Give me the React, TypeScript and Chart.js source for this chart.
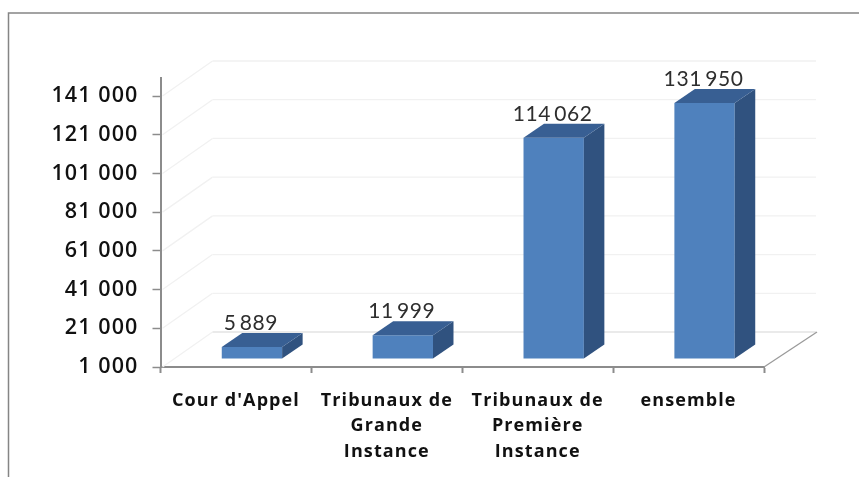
import React, { useEffect, useRef } from "react";
import { Chart, registerables } from "chart.js";

Chart.register(...registerables);

const categories = [
  "Cour d'Appel",
  ["Tribunaux de", "Grande", "Instance"],
  ["Tribunaux de", "Première", "Instance"],
  "ensemble",
];
const values = [5889, 11999, 114062, 131950];
const valueLabels = ["5\u2009889", "11\u2009999", "114\u2009062", "131\u2009950"];
const yTicks = [1000, 21000, 41000, 61000, 81000, 101000, 121000, 141000];
const yTickLabels = ["1 000", "21 000", "41 000", "61 000", "81 000", "101 000", "121 000", "141 000"];

const WALL_DX = 52;
const WALL_DY = 35;
const BAR_SHIFT_DX = 16;
const BAR_SHIFT_DY = 10.5;
const BAR_DEPTH_DX = 20.5;
const BAR_DEPTH_DY = 14;

const AXIS_FONT = "'Open Sans'";
const LABEL_FONT = "Lato";

const scenePlugin = {
  id: "scene3d",
  beforeDraw(chart: any) {
    const { ctx, width, height } = chart;
    ctx.save();
    ctx.strokeStyle = "#858585";
    ctx.lineWidth = 1.5;
    ctx.beginPath();
    ctx.moveTo(8.5, height);
    ctx.lineTo(8.5, 13);
    ctx.lineTo(width, 13);
    ctx.stroke();
    ctx.restore();
    ctx.letterSpacing = "1.1px";
  },
  beforeDatasetsDraw(chart: any) {
    const { ctx, chartArea, scales } = chart;
    ctx.letterSpacing = "0px";
    const { left, right, bottom } = chartArea;
    ctx.save();
    yTicks.forEach((t) => {
      const y = scales.y.getPixelForValue(t);
      const isFloor = t === yTicks[0];
      ctx.lineWidth = 1.3;
      ctx.strokeStyle = "#f1f1f1";
      ctx.beginPath();
      ctx.moveTo(left + 2, y);
      ctx.lineTo(left + WALL_DX, y - WALL_DY);
      ctx.stroke();
      ctx.strokeStyle = isFloor ? "#e3e3e3" : "#f1f1f1";
      ctx.beginPath();
      ctx.moveTo(left + WALL_DX, y - WALL_DY);
      ctx.lineTo(right + WALL_DX, y - WALL_DY);
      ctx.stroke();
    });
    ctx.strokeStyle = "#9a9a9a";
    ctx.lineWidth = 1.3;
    ctx.beginPath();
    ctx.moveTo(right, bottom);
    ctx.lineTo(right + WALL_DX + 1, bottom - WALL_DY);
    ctx.stroke();
    ctx.restore();
    ctx.save();
    ctx.translate(BAR_SHIFT_DX, -BAR_SHIFT_DY);
  },
  afterDatasetsDraw(chart: any) {
    const { ctx } = chart;
    ctx.restore();
    const bars = chart.getDatasetMeta(0).data;
    bars.forEach((bar: any, i: number) => {
      const { x, y, base, width } = bar.getProps(["x", "y", "base", "width"], true);
      const l = x - width / 2 + BAR_SHIFT_DX;
      const r = x + width / 2 + BAR_SHIFT_DX;
      const t = y - BAR_SHIFT_DY;
      const b = base - BAR_SHIFT_DY;
      ctx.save();
      ctx.fillStyle = "#30527f";
      ctx.beginPath();
      ctx.moveTo(r, t);
      ctx.lineTo(r + BAR_DEPTH_DX, t - BAR_DEPTH_DY);
      ctx.lineTo(r + BAR_DEPTH_DX, b - BAR_DEPTH_DY);
      ctx.lineTo(r, b);
      ctx.closePath();
      ctx.fill();
      ctx.fillStyle = "#385f93";
      ctx.beginPath();
      ctx.moveTo(l, t);
      ctx.lineTo(l + BAR_DEPTH_DX, t - BAR_DEPTH_DY);
      ctx.lineTo(r + BAR_DEPTH_DX, t - BAR_DEPTH_DY);
      ctx.lineTo(r, t);
      ctx.closePath();
      ctx.fill();
      ctx.fillStyle = "#2e2e2e";
      ctx.font = `400 21px ${LABEL_FONT}`;
      ctx.letterSpacing = "0.6px";
      ctx.textAlign = "center";
      ctx.textBaseline = "middle";
      ctx.fillText(valueLabels[i], (l + r) / 2 - 1, t - BAR_DEPTH_DY - 9.5);
      ctx.restore();
    });
  },
};

export default function App() {
  const ref = useRef<HTMLCanvasElement>(null);
  useEffect(() => {
    const chart = new Chart(ref.current as HTMLCanvasElement, {
      type: "bar",
      data: {
        labels: categories as any,
        datasets: [
          {
            data: values,
            backgroundColor: "#4f81bd",
            borderWidth: 0,
            categoryPercentage: 1,
            barPercentage: 0.4,
            clip: false as any,
          },
        ],
      },
      options: {
        animation: false,
        responsive: false,
        events: [],
        layout: { padding: { top: 78, right: 95, left: 0, bottom: 0 } },
        plugins: { legend: { display: false }, tooltip: { enabled: false } },
        scales: {
          x: {
            afterFit: (s: any) => {
              s.height = 110;
            },
            border: { color: "#8c8c8c", width: 2 },
            grid: { drawOnChartArea: false, drawTicks: true, tickLength: 6, tickColor: "#8c8c8c", tickWidth: 2 },
            ticks: {
              autoSkip: false,
              maxRotation: 0,
              padding: 15,
              color: "#111111",
              font: { family: AXIS_FONT, size: 18, weight: "700", lineHeight: 1.42 },
            },
          },
          y: {
            min: 1000,
            max: 150300,
            afterFit: (s: any) => {
              s.width = 160.5;
            },
            afterBuildTicks: (s: any) => {
              s.ticks = yTicks.map((value) => ({ value }));
            },
            border: { color: "#8c8c8c", width: 2 },
            grid: { drawOnChartArea: false, drawTicks: true, tickLength: 8, tickColor: "#8c8c8c", tickWidth: 1.5 },
            ticks: {
              padding: 14,
              color: "#111111",
              font: { family: AXIS_FONT, size: 21.5, weight: "600" },
              callback: (v: any) => yTickLabels[yTicks.indexOf(v)],
            },
          },
        },
      },
      plugins: [scenePlugin],
    } as any);
    return () => chart.destroy();
  }, []);
  return (
    <div style={{ position: "fixed", left: 0, top: 0, width: 859, height: 477, background: "#fff" }}>
      <canvas ref={ref} width={859} height={477} style={{ display: "block" }} />
    </div>
  );
}
